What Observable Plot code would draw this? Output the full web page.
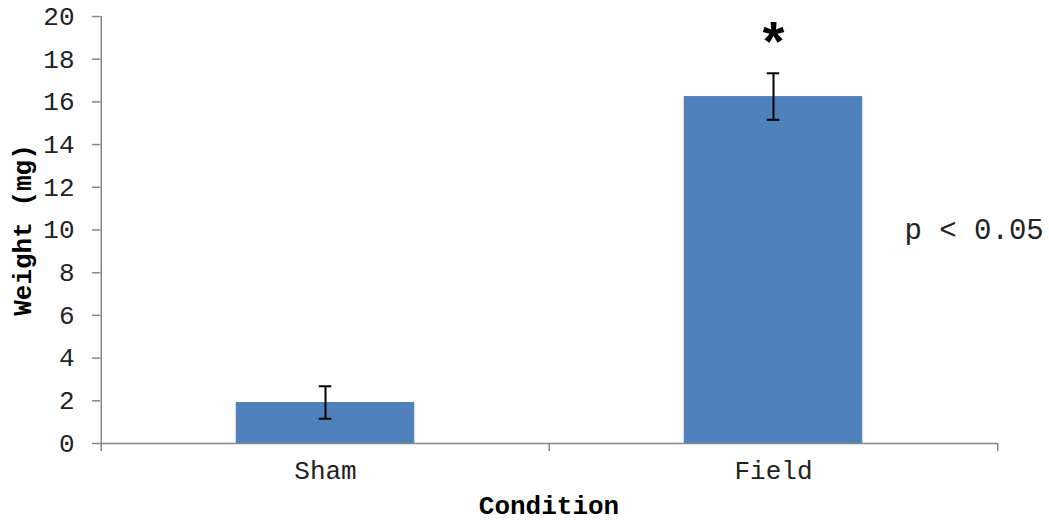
<!DOCTYPE html>
<html>
<head>
<meta charset="utf-8">
<script src="https://cdn.jsdelivr.net/npm/d3@7"></script>
<script src="https://cdn.jsdelivr.net/npm/@observablehq/plot@0.6"></script>
<style>
  html, body { margin: 0; padding: 0; background: #fff; }
</style>
</head>
<body>
<div id="chart"></div>
<script>
const categories = ["Sham", "Field"];
const means = [1.92, 16.25];
const errors = [0.76, 1.09];
const significance = ["", "*"];
const yTicks = [0, 2, 4, 6, 8, 10, 12, 14, 16, 18, 20];
const yLabel = "Weight (mg)";
const xLabel = "Condition";
const note = "p < 0.05";

const data = categories.map((c, i) => ({condition: c, value: means[i], err: errors[i], sig: significance[i]}));

const W = 1049, H = 522, mL = 100, mR = 52, mT = 16, mB = 79;
const band = (W - mL - mR) / categories.length;
const barWidth = 179;
const whisker = 13;
const axisGray = "#868686";
const textColor = "#222";
const font = "'Liberation Mono', 'Courier New', monospace";

const chart = Plot.plot({
  width: W,
  height: H,
  marginLeft: mL,
  marginRight: mR,
  marginTop: mT,
  marginBottom: mB,
  style: {fontFamily: font, fontSize: "26px", color: textColor, background: "#fff"},
  x: {domain: categories, padding: 0, label: null},
  y: {domain: [0, 20], label: null},
  marks: [
    Plot.barY(data, {x: "condition", y: "value", fill: "#4F81BD", insetLeft: (band - barWidth) / 2, insetRight: (band - barWidth) / 2}),
    // y axis line (left edge of first band)
    Plot.ruleX(categories.slice(0, 1), {x: d => d, dx: -band / 2, stroke: axisGray, strokeWidth: 1.5}),
    Plot.axisY(yTicks, {tickSize: 8, tickPadding: 18, stroke: axisGray, fill: textColor, label: null, strokeWidth: 1.5}),
    // x axis
    Plot.ruleY([0], {stroke: axisGray, strokeWidth: 1.5}),
    Plot.ruleX(categories, {x: d => d, y1: 0, y2: 0, insetBottom: -8, dx: -band / 2, stroke: axisGray, strokeWidth: 1.5}),
    Plot.ruleX(categories.slice(-1), {x: d => d, y1: 0, y2: 0, insetBottom: -8, dx: band / 2, stroke: axisGray, strokeWidth: 1.5}),
    Plot.axisX({tickSize: 0, tickPadding: 17, fill: textColor, label: null}),
    // error bars
    Plot.ruleX(data, {x: "condition", y1: d => d.value - d.err, y2: d => d.value + d.err, stroke: "#000", strokeWidth: 2}),
    Plot.tickY(data, {x: "condition", y: d => d.value + d.err, stroke: "#000", strokeWidth: 2, insetLeft: (band - whisker) / 2, insetRight: (band - whisker) / 2}),
    Plot.tickY(data, {x: "condition", y: d => d.value - d.err, stroke: "#000", strokeWidth: 2, insetLeft: (band - whisker) / 2, insetRight: (band - whisker) / 2}),
    // significance
    Plot.text(data.filter(d => d.sig), {x: "condition", y: d => d.value + d.err, text: "sig", dy: -29, fontSize: 56, fontWeight: "bold", fill: "#000"}),
    Plot.text([note], {frameAnchor: "right", textAnchor: "start", dx: -93, fontSize: 29, fill: textColor}),
    // titles
    Plot.text([yLabel], {frameAnchor: "left", textAnchor: "middle", dx: -78, rotate: -90, fontWeight: "bold", fill: "#000"}),
    Plot.text([xLabel], {frameAnchor: "bottom", lineAnchor: "middle", dy: 62, fontWeight: "bold", fill: "#000"})
  ]
});
document.getElementById("chart").appendChild(chart);
</script>
</body>
</html>
